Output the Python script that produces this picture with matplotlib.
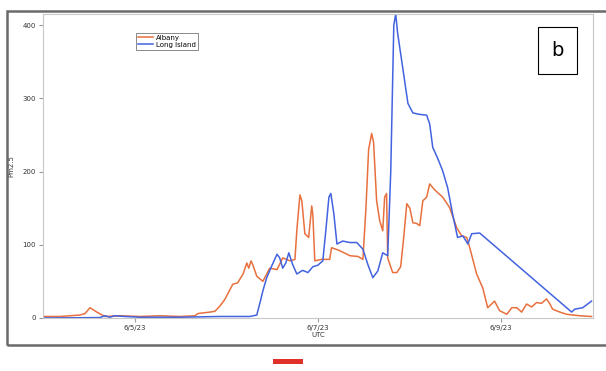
import pandas as pd
import matplotlib
matplotlib.use("Agg")
import matplotlib.pyplot as plt
from matplotlib.patches import Rectangle

start = pd.Timestamp("2023-06-04 00:00")

# hours since 6/4/23 00:00 UTC, PM2.5 values
albany_hours = [0, 4.5, 9.7, 11, 12.3, 14.1, 16.2, 20.2, 25.4, 30.6, 35.9, 39.8, 40.6, 43.7, 45,
                46.3, 47.6, 49.7, 51, 52.4, 53.4, 53.9, 54.5, 55, 56, 57.6, 59.4, 61.3, 62.8, 64.7,
                66, 66.5, 67.3, 67.8, 68.6, 69.6, 70.4, 70.7, 71.2, 73, 75.1, 75.6, 77.7, 80.4,
                82.5, 83.8, 84.6, 85.3, 86.1, 86.6, 87.4, 88.2, 89, 89.5, 90, 90.3, 91.6, 92.7,
                93.7, 94.5, 95.3, 96.1, 96.9, 97.9, 98.7, 99.5, 100.5, 101.3, 102.6, 104.7, 106.5,
                108.4, 109.7, 111, 111.8, 113.6, 115.2, 116.5, 118.3, 119.6, 121.5, 122.8, 124.1,
                125.4, 126.7, 128, 129.3, 130.6, 131.9, 132.7, 133.5, 135.4, 137.2, 140.6, 143.7]
albany_pm = [2, 2, 4, 6, 14, 8, 2, 3, 2, 3, 2, 3, 6, 8, 9,
             16, 25, 46, 48, 60, 75, 68, 78, 72, 57, 50, 68, 66, 82, 78,
             80, 120, 168, 160, 115, 110, 153, 140, 78, 80, 80, 96, 92, 85,
             84, 80, 150, 230, 252, 240, 160, 133, 119, 165, 170, 82, 62, 62,
             70, 110, 156, 150, 130, 129, 126, 160, 165, 183, 175, 165, 151,
             123, 112, 110, 96, 60, 41, 14, 23, 10, 5, 14, 14,
             8, 19, 15, 21, 20, 26, 20, 12, 8, 5, 3, 2]

li_hours = [0, 14.9, 16.2, 17.5, 18.8, 21.5, 25.4, 35.9, 46.3, 54.2, 56, 56.8, 57.6, 58.6, 60,
            61.3, 62, 62.8, 63.6, 64.4, 65.4, 66.5, 68, 69.4, 70.7, 72, 73.3, 74.1, 74.9, 75.4,
            76.2, 77, 78.5, 80.4, 82.2, 83.8, 85.1, 86.4, 87.7, 89, 90.3, 91.1, 91.9, 92.4,
            92.9, 94.2, 95.6, 96.9, 98.7, 100.5, 101.3, 102.1, 103.4, 104.7, 106, 107.3, 108.6,
            110, 111.3, 112.3, 114.4, 138.5, 139.3, 141.4, 143.7]
li_pm = [0, 0.5, 3, 1, 3, 2, 1, 1, 2, 2, 4, 20, 37, 55, 72,
         87, 82, 68, 75, 89, 73, 60, 65, 62, 70, 72, 78, 120, 165, 170,
         142, 101, 105, 103, 103, 94, 73, 55, 64, 89, 85, 200, 400, 415,
         389, 343, 293, 280, 278, 277, 265, 233, 218, 201, 178, 142, 110,
         112, 101, 115, 116, 8, 12, 14, 23]

tick_days = ["2023-06-05", "2023-06-07", "2023-06-09"]
tick_labels = ["6/5/23", "6/7/23", "6/9/23"]


def main():
    t_alb = start + pd.to_timedelta(albany_hours, unit="h")
    t_li = start + pd.to_timedelta(li_hours, unit="h")

    fig = plt.figure(figsize=(6.06, 3.71), dpi=100)
    ax = fig.add_axes([0.071, 0.143, 0.907, 0.819])

    ax.plot(t_alb, albany_pm, color="#e8703e", lw=1.1, label="Albany")
    ax.plot(t_li, li_pm, color="#4263e0", lw=1.1, label="Long Island")

    ax.set_xlim(start, start + pd.Timedelta(days=6))
    ax.set_ylim(0, 415)
    ax.set_yticks([0, 100, 200, 300, 400])
    ax.set_xticks(pd.to_datetime(tick_days))
    ax.set_xticklabels(tick_labels)
    ax.tick_params(labelsize=5, length=3, color="#999999", pad=2, labelcolor="#333333")
    for s in ax.spines.values():
        s.set_color("#c8c8c8")
        s.set_linewidth(0.8)
    ax.set_xlabel("UTC", fontsize=5, labelpad=1, color="#333333")
    ax.set_ylabel("Pm2.5", fontsize=5, labelpad=6, color="#333333")

    leg = ax.legend(loc="upper left", bbox_to_anchor=(0.163, 0.95), fontsize=5,
                    frameon=True, fancybox=False, handlelength=2.2, borderpad=0.3,
                    labelspacing=0.1, handletextpad=0.4)
    leg.get_frame().set_edgecolor("#555555")
    leg.get_frame().set_linewidth(0.6)

    # panel letter box
    fig.text(0.92, 0.864, "b", fontsize=14, ha="center", va="center",
             bbox=dict(boxstyle="square,pad=0.7", fc="white", ec="black", lw=0.8))

    # outer screenshot frame and red mark
    fig.add_artist(Rectangle((7 / 606, 1 - 345 / 371), 1.0, 334 / 371, transform=fig.transFigure,
                             fill=False, ec="#6a6a6a", lw=1.8))
    fig.add_artist(Rectangle((273 / 606, 1 - 364 / 371), 30 / 606, 5 / 371,
                             transform=fig.transFigure, fc="#e0302a", ec="none"))

    fig.savefig("out.png", dpi=100)


if __name__ == "__main__":
    main()
